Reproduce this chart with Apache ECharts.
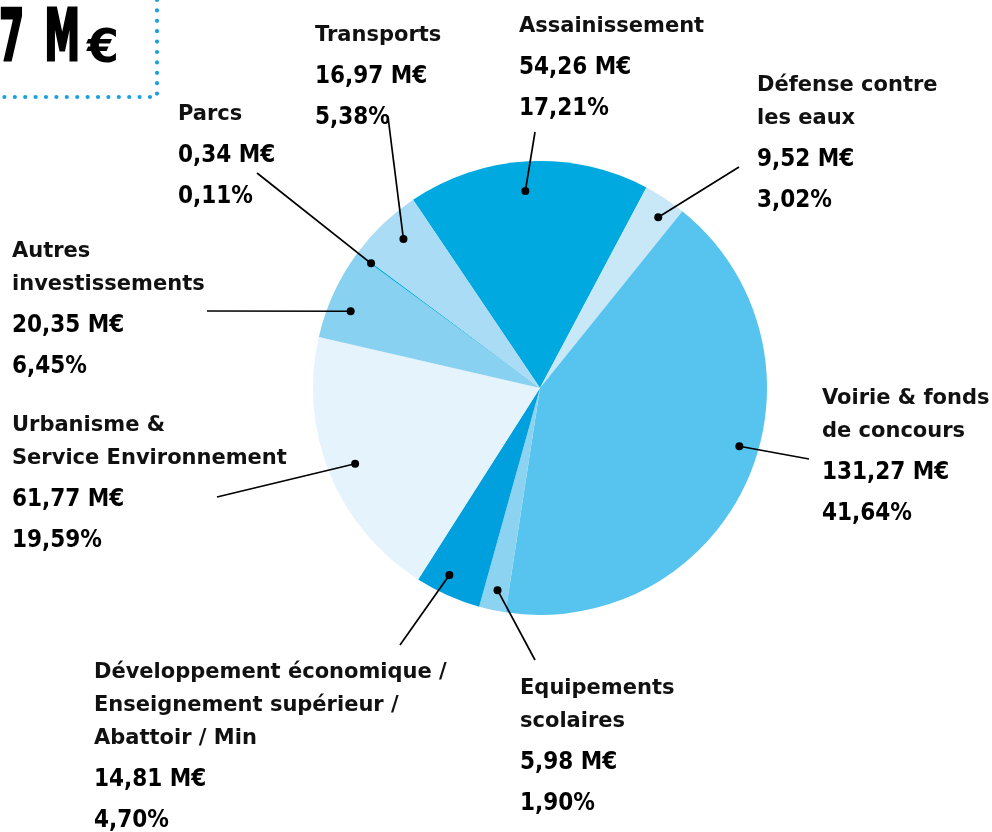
<!DOCTYPE html>
<html>
<head>
<meta charset="utf-8">
<script src="https://cdn.jsdelivr.net/npm/echarts@6/dist/echarts.min.js"></script>
<style>
  html, body { margin: 0; padding: 0; background: #ffffff; }
  #chart { width: 992px; height: 832px; }
</style>
</head>
<body>
<div id="chart"></div>
<script>
// Investment budget by domain, in millions of euros
const categories = [
  'Assainissement',
  'Défense contre les eaux',
  'Voirie & fonds de concours',
  'Equipements scolaires',
  'Développement économique / Enseignement supérieur / Abattoir / Min',
  'Urbanisme & Service Environnement',
  'Autres investissements',
  'Parcs',
  'Transports'
];
// How each category name is broken over lines in its label
const nameLines = [
  ['Assainissement'],
  ['Défense contre', 'les eaux'],
  ['Voirie & fonds', 'de concours'],
  ['Equipements', 'scolaires'],
  ['Développement économique /', 'Enseignement supérieur /', 'Abattoir / Min'],
  ['Urbanisme &', 'Service Environnement'],
  ['Autres', 'investissements'],
  ['Parcs'],
  ['Transports']
];
const amounts = [54.26, 9.52, 131.27, 5.98, 14.81, 61.77, 20.35, 0.34, 16.97];

// Slice colours, same order as the categories
const sliceColors = ['#00a9e0', '#c9e8f7', '#56c4ee', '#8bd3f1', '#00a0de', '#e4f3fc', '#88d1f1', '#00a9e0', '#aadcf5'];

// Geometry of the pie
const CENTER = [540, 388];
const RADIUS = 227;
const START_ANGLE = 124;

// Label placement: text block origin, leader end, and where the dot sits
// inside the slice (fraction along the slice, fraction of the radius)
const labelLayoutConf = [
  { x: 519, y: 10,  end: [535, 132], frac: 0.48, r: 0.87 },
  { x: 757, y: 69,  end: [739, 167], frac: 0.62, r: 0.915 },
  { x: 822, y: 382, end: [809, 459], frac: 0.45, r: 0.915 },
  { x: 520, y: 672, end: [535, 660], frac: 0.46, r: 0.91 },
  { x: 94,  y: 656, end: [400, 645], frac: 0.61, r: 0.915 },
  { x: 12,  y: 409, end: [217, 497], frac: 0.50, r: 0.88 },
  { x: 12,  y: 235, end: [207, 311], frac: 0.39, r: 0.90 },
  { x: 178, y: 98,  end: [257, 173], frac: 0.50, r: 0.925 },
  { x: 315, y: 19,  end: [388, 117], frac: 0.56, r: 0.89 }
];

const total = amounts.reduce((a, b) => a + b, 0);
const fmt = (v) => v.toFixed(2).replace('.', ',');

// Position of each dot along the angle axis (same units as the amounts)
const cumBefore = [];
amounts.reduce((acc, v, i) => { cumBefore[i] = acc; return acc + v; }, 0);
const dotAngleValues = amounts.map((v, i) => cumBefore[i] + labelLayoutConf[i].frac * v);

const NAME_FONT = '"DejaVu Sans", "Liberation Sans", sans-serif';
const VALUE_FONT = '"DejaVu Sans Condensed", "Liberation Sans Narrow", "DejaVu Sans", sans-serif';

// Big heading text: tall condensed face, squeezed horizontally
const headingStyle = (text) => ({
  text: text,
  font: 'bold 72px ' + VALUE_FONT,
  fill: '#000',
  stroke: '#000',
  lineWidth: 3,
  align: 'right',
  verticalAlign: 'middle'
});

const chart = echarts.init(document.getElementById('chart'), null, { renderer: 'canvas' });

chart.setOption({
  animation: false,
  backgroundColor: '#ffffff',
  polar: { center: CENTER, radius: RADIUS },
  angleAxis: {
    type: 'value', min: 0, max: total, startAngle: START_ANGLE, clockwise: true,
    show: false
  },
  radiusAxis: { type: 'value', min: 0, max: 1, show: false },
  graphic: [
    {
      type: 'polyline',
      shape: { points: [[-6, 97], [157, 97], [157, -6]] },
      style: { stroke: '#1a9fe0', lineWidth: 4.2, lineDash: [0, 10.4], lineCap: 'round', fill: null },
      silent: true
    },
    {
      type: 'text', x: 24, y: 41, scaleX: 0.55,
      style: headingStyle(fmt(total)),
      silent: true
    },
    {
      type: 'text', x: 80, y: 41, scaleX: 0.55,
      style: headingStyle('M'),
      silent: true
    },
    {
      type: 'text',
      x: 119, y: 50,
      style: {
        text: '€',
        font: 'bold 46px "DejaVu Sans", sans-serif',
        fill: '#000',
        align: 'right',
        verticalAlign: 'middle'
      },
      silent: true
    }
  ],
  series: [
    {
      type: 'pie',
      z: 2,
      center: CENTER,
      radius: [0, RADIUS],
      startAngle: START_ANGLE,
      clockwise: true,
      avoidLabelOverlap: false,
      silent: true,
      emphasis: { disabled: true },
      itemStyle: { borderWidth: 0 },
      data: categories.map((c, i) => ({
        name: c,
        value: amounts[i],
        itemStyle: { color: sliceColors[i] }
      })),
      label: {
        show: true,
        position: 'outside',
        color: '#000',
        formatter: (p) => {
          const i = p.dataIndex;
          const names = nameLines[i].map((l) => '{n|' + l + '}').join('\n');
          return names + '\n{v1|' + fmt(amounts[i]) + ' M€}\n{v2|' + fmt(amounts[i] / total * 100) + '%}';
        },
        rich: {
          n: { fontFamily: NAME_FONT, fontSize: 21, fontWeight: 'bold', color: '#111', lineHeight: 33 },
          v1: { fontFamily: VALUE_FONT, fontSize: 24, fontWeight: 'bold', color: '#000', lineHeight: 49 },
          v2: { fontFamily: VALUE_FONT, fontSize: 24, fontWeight: 'bold', color: '#000', lineHeight: 33 }
        }
      },
      labelLine: { show: false },
      labelLayout: (params) => {
        const conf = labelLayoutConf[params.dataIndex];
        return { x: conf.x, y: conf.y, align: 'left', verticalAlign: 'top' };
      }
    },
    {
      // leader lines: a dot inside each slice joined to its label
      type: 'custom',
      coordinateSystem: 'polar',
      silent: true,
      z: 5,
      data: amounts.map((v, i) => [labelLayoutConf[i].r, dotAngleValues[i]]),
      renderItem: (params, api) => {
        const p = api.coord([api.value(0), api.value(1)]);
        const end = labelLayoutConf[params.dataIndex].end;
        return {
          type: 'group',
          children: [
            {
              type: 'line',
              shape: { x1: p[0], y1: p[1], x2: end[0], y2: end[1] },
              style: { stroke: '#000', lineWidth: 1.7 }
            },
            {
              type: 'circle',
              shape: { cx: p[0], cy: p[1], r: 4 },
              style: { fill: '#000' }
            }
          ]
        };
      }
    }
  ]
});
</script>
</body>
</html>
